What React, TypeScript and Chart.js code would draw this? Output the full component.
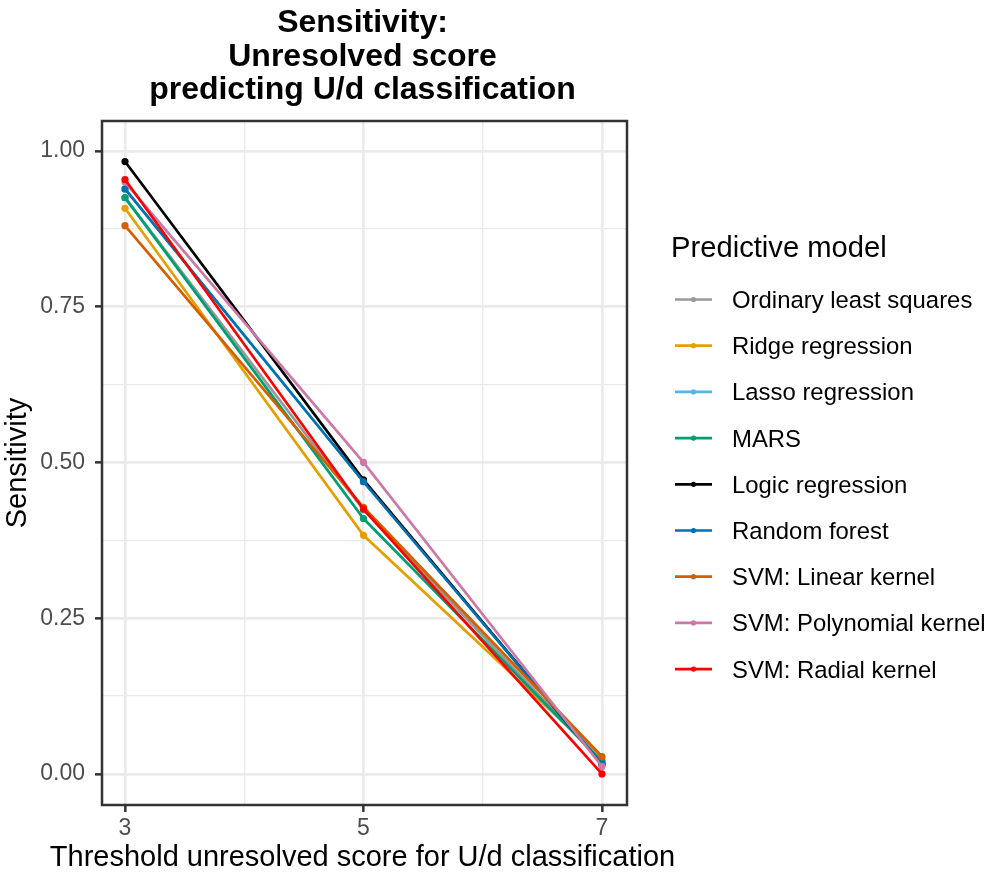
import React, { useEffect, useRef } from "react";
import { Chart, registerables } from "chart.js";

Chart.register(...registerables);

// ---- data ----
const thresholds = [3, 5, 7];
const modelNames = [
  "Ordinary least squares",
  "Ridge regression",
  "Lasso regression",
  "MARS",
  "Logic regression",
  "Random forest",
  "SVM: Linear kernel",
  "SVM: Polynomial kernel",
  "SVM: Radial kernel",
];
const olsValues = [0.925, 0.424, 0.02];
const ridgeValues = [0.908, 0.383, 0.025];
const lassoValues = [0.939, 0.469, 0.018];
const marsValues = [0.925, 0.41, 0.02];
const logicValues = [0.983, 0.472, 0.015];
const rfValues = [0.939, 0.469, 0.016];
const linearValues = [0.88, 0.428, 0.028];
const polyValues = [0.95, 0.5, 0.012];
const radialValues = [0.954, 0.425, 0.0];
const seriesValues = [
  olsValues,
  ridgeValues,
  lassoValues,
  marsValues,
  logicValues,
  rfValues,
  linearValues,
  polyValues,
  radialValues,
];
const seriesColors = [
  "#999999",
  "#E69F00",
  "#56B4E9",
  "#009E73",
  "#000000",
  "#0072B2",
  "#D55E00",
  "#CC79A7",
  "#FF0000",
];
const xTicks = [3, 4, 5, 6, 7];
const xMajorTicks = [3, 5, 7];
const yTicks = [0, 0.125, 0.25, 0.375, 0.5, 0.625, 0.75, 0.875, 1];
const yMajorTicks = [0, 0.25, 0.5, 0.75, 1];
const titleLines = ["Sensitivity:", "Unresolved score", "predicting U/d classification"];
const legendTitle = "Predictive model";
const xTitle = "Threshold unresolved score for U/d classification";
const yTitle = "Sensitivity";

const FONT = '"Liberation Sans", Arial, Helvetica, sans-serif';
const near = (a: number, arr: number[]) => arr.some((b) => Math.abs(a - b) < 1e-6);

const decorPlugin = {
  id: "decor",
  afterDraw(chart: any) {
    const { ctx, chartArea } = chart;
    ctx.save();
    // panel border
    ctx.strokeStyle = "#333333";
    ctx.lineWidth = 2.5;
    ctx.strokeRect(chartArea.left, chartArea.top, chartArea.right - chartArea.left, chartArea.bottom - chartArea.top);
    const cx = (chartArea.left + chartArea.right) / 2 - 2;
    // x axis title
    ctx.fillStyle = "#000000";
    ctx.font = `29px ${FONT}`;
    ctx.textAlign = "center";
    ctx.textBaseline = "middle";
    ctx.fillText(xTitle, cx, 857.5);
    // title
    ctx.font = `bold 32px ${FONT}`;
    ctx.textBaseline = "alphabetic";
    titleLines.forEach((t, i) => ctx.fillText(t, cx, 32 + i * 33.5));
    // legend
    const lx = chartArea.right + 44;
    ctx.textAlign = "left";
    ctx.font = `29.2px ${FONT}`;
    ctx.fillText(legendTitle, lx, 257);
    ctx.font = `23.9px ${FONT}`;
    chart.data.datasets.forEach((ds: any, i: number) => {
      const y = 299.5 + i * 46.2;
      ctx.strokeStyle = ds.borderColor;
      ctx.lineWidth = 2.7;
      ctx.beginPath();
      ctx.moveTo(lx + 4, y);
      ctx.lineTo(lx + 41, y);
      ctx.stroke();
      ctx.fillStyle = ds.borderColor;
      ctx.beginPath();
      ctx.arc(lx + 22.5, y, 2.6, 0, Math.PI * 2);
      ctx.fill();
      ctx.fillStyle = "#000000";
      ctx.fillText(ds.label, lx + 61, y + 8.5);
    });
    ctx.restore();
  },
};

export default function App() {
  const ref = useRef<HTMLCanvasElement>(null);
  useEffect(() => {
    if (!ref.current) return;
    const n = modelNames.length;
    const chart = new Chart(ref.current, {
      type: "line",
      data: {
        datasets: modelNames.map((name, i) => ({
          label: name,
          data: thresholds.map((x, j) => ({ x, y: seriesValues[i][j] })),
          borderColor: seriesColors[i],
          backgroundColor: seriesColors[i],
          borderWidth: 2.7,
          pointRadius: 3.6,
          pointBorderWidth: 0,
          pointBackgroundColor: seriesColors[i],
          tension: 0,
          order: n - i,
        })),
      },
      options: {
        animation: false,
        responsive: false,
        devicePixelRatio: 1,
        layout: { padding: { top: 121, right: 359, left: 0, bottom: 0 } },
        plugins: { legend: { display: false }, tooltip: { enabled: false }, title: { display: false } },
        scales: {
          x: {
            type: "linear",
            min: 2.807,
            max: 7.21,
            afterBuildTicks: (scale: any) => {
              scale.ticks = xTicks.map((v) => ({ value: v }));
            },
            afterFit: (scale: any) => {
              scale.height = 72;
            },
            ticks: {
              autoSkip: false,
              maxRotation: 0,
              padding: 3,
              color: "#4D4D4D",
              font: { family: FONT, size: 23 },
              callback: (v: any) => (near(Number(v), xMajorTicks) ? String(v) : ""),
            },
            grid: {
              color: "#EBEBEB",
              lineWidth: (c: any) => (c.tick && near(c.tick.value, xMajorTicks) ? 2.7 : 1.35),
              tickColor: (c: any) => (c.tick && near(c.tick.value, xMajorTicks) ? "#333333" : "rgba(0,0,0,0)"),
              tickLength: 7,
              tickWidth: 2.5,
            },
            border: { display: false },
            title: { display: false },
          },
          y: {
            type: "linear",
            min: -0.0498,
            max: 1.048,
            afterBuildTicks: (scale: any) => {
              scale.ticks = yTicks.map((v) => ({ value: v }));
            },
            afterFit: (scale: any) => {
              scale.width = 102;
            },
            ticks: {
              autoSkip: false,
              padding: 10,
              color: "#4D4D4D",
              font: { family: FONT, size: 23 },
              callback: (v: any) => (near(Number(v), yMajorTicks) ? Number(v).toFixed(2) : ""),
            },
            grid: {
              color: "#EBEBEB",
              lineWidth: (c: any) => (c.tick && near(c.tick.value, yMajorTicks) ? 2.7 : 1.35),
              tickColor: (c: any) => (c.tick && near(c.tick.value, yMajorTicks) ? "#333333" : "rgba(0,0,0,0)"),
              tickLength: 7,
              tickWidth: 2.5,
            },
            border: { display: false },
            title: {
              display: true,
              text: yTitle,
              color: "#000000",
              font: { family: FONT, size: 29 },
              padding: { top: 1, bottom: 0 },
            },
          },
        },
      },
      plugins: [decorPlugin],
    } as any);
    return () => chart.destroy();
  }, []);
  return (
    <div style={{ position: "absolute", left: 0, top: 0, width: 986, height: 877, background: "#ffffff" }}>
      <canvas ref={ref} width={986} height={877} style={{ width: 986, height: 877, display: "block" }} />
    </div>
  );
}
